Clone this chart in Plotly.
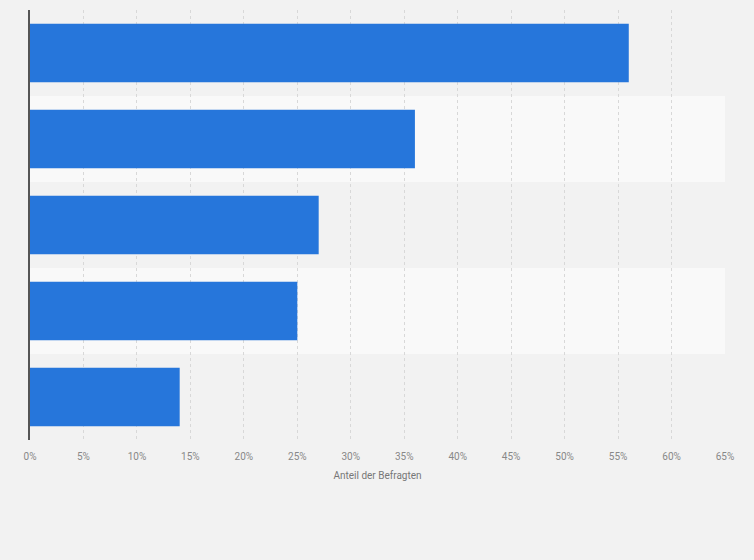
import plotly.graph_objects as go

categories = ["Kategorie 1", "Kategorie 2", "Kategorie 3", "Kategorie 4", "Kategorie 5"]
values = [56, 36, 27, 25, 14]
tick_vals = list(range(0, 70, 5))
tick_text = [f"{v}%" for v in tick_vals]
x_title = "Anteil der Befragten"

fig = go.Figure()
fig.add_trace(go.Bar(
    y=categories, x=values, orientation="h",
    marker=dict(color="#2676db", line=dict(width=0)),
    hoverinfo="x",
))

shapes = []
for i, c in enumerate(categories):
    if i % 2 == 1:
        shapes.append(dict(type="rect", xref="paper", yref="y",
                           x0=0, x1=1, y0=i - 0.5, y1=i + 0.5,
                           fillcolor="#f9f9f9", line=dict(width=0), layer="below"))

fig.update_layout(
    width=754, height=560,
    margin=dict(l=30, r=29, t=10, b=120),
    paper_bgcolor="#f2f2f2", plot_bgcolor="#f2f2f2",
    bargap=0.32,
    showlegend=False,
    shapes=shapes,
    font=dict(family="Roboto, Arial, sans-serif", size=10, color="#666666"),
    xaxis=dict(
        range=[0, 65], tickvals=tick_vals, ticktext=tick_text,
        showgrid=True, gridcolor="#d8d8d8", griddash="dot", gridwidth=1,
        zeroline=False, showline=False,
        ticks="outside", ticklen=7, tickcolor="rgba(0,0,0,0)",
        tickfont=dict(size=10, color="#888888"),
        title=dict(text=x_title, font=dict(size=10, color="#777777"), standoff=10),
        fixedrange=True,
    ),
    yaxis=dict(
        autorange="reversed", showticklabels=False, showgrid=False,
        showline=True, linecolor="#555555", linewidth=1.5, zeroline=False,
        ticks="", fixedrange=True,
    ),
)

fig.write_html("out.html", config={"displayModeBar": False},
               post_script="document.body.style.margin='0';document.body.style.background='#f2f2f2';")
